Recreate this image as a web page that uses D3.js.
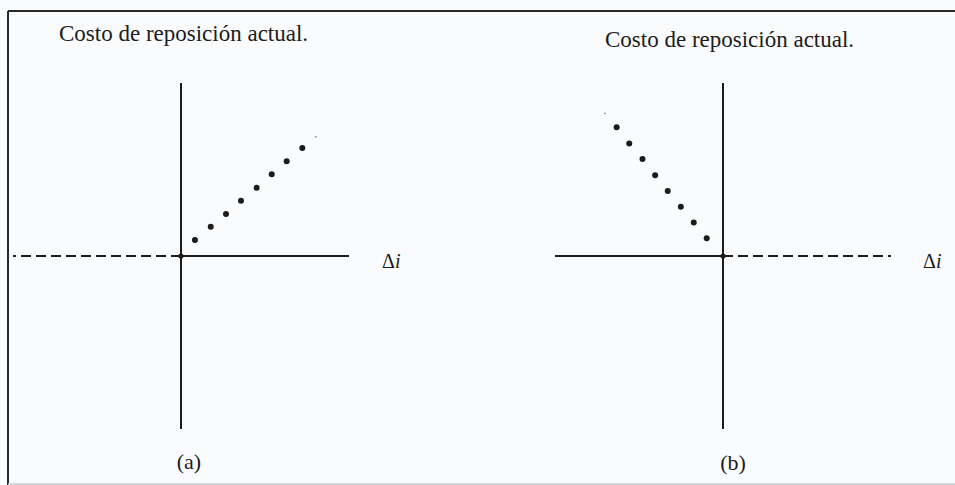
<!DOCTYPE html>
<html>
<head>
<meta charset="utf-8">
<script src="https://cdn.jsdelivr.net/npm/d3@7"></script>
<style>
  body { margin: 0; background: #fafbfc; }
  svg { display: block; }
</style>
</head>
<body>
<div id="container"></div>
<script>
// data
let panelNames = ["(a)", "(b)"];
let titleText = "Costo de reposición actual.";
let axisLabel = "Δi";
let dashedSide = ["left", "right"];

// dotted line points, in axis units (0,0 is where the axes cross)
let dotsAx = [0.083, 0.177, 0.268, 0.357, 0.450, 0.540, 0.629, 0.722];
let dotsAy = [0.092, 0.169, 0.243, 0.320, 0.395, 0.472, 0.547, 0.624];
let dotsBx = [-0.633, -0.558, -0.479, -0.404, -0.329, -0.251, -0.174, -0.097];
let dotsBy = [0.744, 0.651, 0.561, 0.467, 0.376, 0.285, 0.193, 0.102];
// faint specks at the far end of each dotted line
let speckX = [0.802, -0.702];
let speckY = [0.689, 0.825];

let w = 955;
let h = 485;
let ink = "#1c1c1c";

let viz = d3.select("#container")
              .append("svg")
              .attr("width", w)
              .attr("height", h)
;

// frame
viz.append("line").attr("x1", 8).attr("y1", 11).attr("x2", w).attr("y2", 11)
    .attr("stroke", "#2a2a2a").attr("stroke-width", 2);
viz.append("line").attr("x1", 8).attr("y1", 11).attr("x2", 8).attr("y2", h)
    .attr("stroke", "#2a2a2a").attr("stroke-width", 2);
viz.append("line").attr("x1", 8).attr("y1", 484).attr("x2", w).attr("y2", 484)
    .attr("stroke", "#c8ccd0").attr("stroke-width", 1.5);

let panels = [
  {xRange: [13, 349], yRange: [429, 83], dots: d3.zip(dotsAx, dotsAy),
   titleX: 59, titleY: 41, labelX: 189, labelY: 469, deltaX: 382},
  {xRange: [555, 891], yRange: [429, 83], dots: d3.zip(dotsBx, dotsBy),
   titleX: 605, titleY: 47, labelX: 733, labelY: 470, deltaX: 923}
];

panels.forEach(function(p, i) {
  let xScale = d3.scaleLinear().domain([-1, 1]).range(p.xRange);
  let yScale = d3.scaleLinear().domain([-1, 1]).range(p.yRange);
  let g = viz.append("g").attr("class", "panel" + i);

  // vertical axis
  g.append("line")
    .attr("x1", xScale(0)).attr("x2", xScale(0))
    .attr("y1", yScale(-1)).attr("y2", yScale(1))
    .attr("stroke", ink).attr("stroke-width", 2);

  // horizontal axis: one half solid, other half dashed
  let solidEnd = dashedSide[i] == "left" ? 1 : -1;
  g.append("line")
    .attr("x1", xScale(0)).attr("x2", xScale(solidEnd))
    .attr("y1", yScale(0)).attr("y2", yScale(0))
    .attr("stroke", ink).attr("stroke-width", 2);
  g.append("line")
    .attr("x1", xScale(0)).attr("x2", xScale(-solidEnd))
    .attr("y1", yScale(0)).attr("y2", yScale(0))
    .attr("stroke", ink).attr("stroke-width", 2.2)
    .attr("stroke-dasharray", "10,5");

  // dot at the origin
  g.append("circle")
    .attr("cx", xScale(0)).attr("cy", yScale(0)).attr("r", 2.6)
    .attr("fill", ink);

  // dotted line
  g.selectAll(".dot").data(p.dots).enter()
    .append("circle")
    .attr("class", "dot")
    .attr("cx", function(d) {return xScale(d[0])})
    .attr("cy", function(d) {return yScale(d[1])})
    .attr("r", 3)
    .attr("fill", ink)
  ;
  g.append("circle")
    .attr("cx", xScale(speckX[i])).attr("cy", yScale(speckY[i])).attr("r", 0.9)
    .attr("fill", "#888");

  // texts
  g.append("text")
    .attr("x", p.titleX).attr("y", p.titleY)
    .attr("font-family", "Liberation Serif, Times New Roman, serif")
    .attr("font-size", 23)
    .attr("fill", ink)
    .text(titleText);

  g.append("text")
    .attr("x", p.labelX).attr("y", p.labelY)
    .attr("text-anchor", "middle")
    .attr("font-family", "Liberation Serif, Times New Roman, serif")
    .attr("font-size", 22)
    .attr("fill", ink)
    .text(panelNames[i]);

  let delta = g.append("text")
    .attr("x", p.deltaX).attr("y", 268)
    .attr("font-family", "Liberation Serif, Times New Roman, serif")
    .attr("font-size", 20)
    .attr("fill", ink);
  delta.append("tspan").text(axisLabel.charAt(0));
  delta.append("tspan").attr("font-style", "italic").text(axisLabel.slice(1));
});
</script>
</body>
</html>
